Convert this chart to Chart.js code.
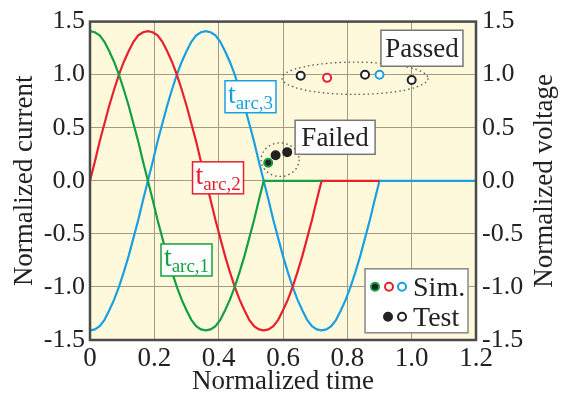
<!DOCTYPE html>
<html>
<head>
<meta charset="utf-8">
<script src="https://cdn.jsdelivr.net/npm/chart.js@4.4.1/dist/chart.umd.min.js"></script>
<style>
html, body { margin: 0; padding: 0; background: #fff; }
</style>
</head>
<body>
<canvas id="graphique" width="562" height="398"></canvas>
<script>
// Normalized time (x) and current (y)
var time = [0, 0.015, 0.03, 0.045, 0.06, 0.075, 0.09, 0.105, 0.12, 0.135, 0.15, 0.165, 0.18, 0.195, 0.21, 0.225,
            0.24, 0.255, 0.27, 0.285, 0.30, 0.315, 0.33, 0.345, 0.36, 0.375, 0.39, 0.405, 0.42, 0.435, 0.45, 0.465,
            0.48, 0.495, 0.51, 0.525, 0.54, 0.555, 0.57, 0.585, 0.60, 0.615, 0.63, 0.645, 0.66, 0.675, 0.69, 0.705,
            0.72, 0.735, 0.75, 0.765, 0.78, 0.795, 0.81, 0.825, 0.84, 0.855, 0.87, 0.885, 0.90, 1.2];

var courant1 = [1.41, 1.40, 1.37, 1.31, 1.22, 1.12, 1.00, 0.86, 0.71, 0.54, 0.37, 0.18, 0, -0.18, -0.37, -0.54,
                -0.71, -0.86, -1.00, -1.12, -1.22, -1.31, -1.37, -1.40, -1.41, -1.40, -1.37, -1.31, -1.22, -1.12, -1.00, -0.86,
                -0.71, -0.54, -0.37, -0.18, 0, 0, 0, 0, 0, 0, 0, 0, 0, 0, 0, 0,
                0, null, null, null, null, null, null, null, null, null, null, null, null, null];
var courant2 = [0, 0.18, 0.37, 0.54, 0.71, 0.86, 1.00, 1.12, 1.22, 1.31, 1.37, 1.40, 1.41, 1.40, 1.37, 1.31,
                1.22, 1.12, 1.00, 0.86, 0.71, 0.54, 0.37, 0.18, 0, -0.18, -0.37, -0.54, -0.71, -0.86, -1.00, -1.12,
                -1.22, -1.31, -1.37, -1.40, -1.41, -1.40, -1.37, -1.31, -1.22, -1.12, -1.00, -0.86, -0.71, -0.54, -0.37, -0.18,
                0, 0, 0, 0, 0, 0, 0, 0, 0, 0, 0, 0, 0, null];
var courant3 = [-1.41, -1.40, -1.37, -1.31, -1.22, -1.12, -1.00, -0.86, -0.71, -0.54, -0.37, -0.18, 0, 0.18, 0.37, 0.54,
                0.71, 0.86, 1.00, 1.12, 1.22, 1.31, 1.37, 1.40, 1.41, 1.40, 1.37, 1.31, 1.22, 1.12, 1.00, 0.86,
                0.71, 0.54, 0.37, 0.18, 0, -0.18, -0.37, -0.54, -0.71, -0.86, -1.00, -1.12, -1.22, -1.31, -1.37, -1.40,
                -1.41, -1.40, -1.37, -1.31, -1.22, -1.12, -1.00, -0.86, -0.71, -0.54, -0.37, -0.18, 0, 0];

// Recovery voltage points
var simTime = [0.554, 0.737, 0.900];
var simVolt = [0.17, 0.97, 1.00];
var testFailTime = [0.577, 0.613];
var testFailVolt = [0.24, 0.27];
var testPassTime = [0.655, 0.855, 1.0];
var testPassVolt = [0.99, 1.00, 0.95];

var vert = '#14a040', rouge = '#e8202c', bleu = '#1aa0e2';
var serif = "'Liberation Serif', 'DejaVu Serif', serif";

function points(xs, ys) {
    return xs.map(function(x, i) { return { x: x, y: ys[i] }; });
}

// annotations, in data coordinates
var arcLabels = [
    { n: '1', color: vert, x: 0.300, y: -0.746 },
    { n: '2', color: rouge, x: 0.398, y: 0.028 },
    { n: '3', color: bleu, x: 0.499, y: 0.792 }
];
var textLabels = [
    { text: 'Passed', x: 1.032, y: 1.249, w: 82, h: 36 },
    { text: 'Failed', x: 0.762, y: 0.410, w: 80, h: 34 }
];
var ellipses = [
    { x: 0.824, y: 0.966, rx: 0.227, ry: 0.152 },
    { x: 0.591, y: 0.199, rx: 0.059, ry: 0.158 }
];
var legende = { x: 0.855, y: -0.829, w: 103, h: 64 };

function boite(ctx, cx, cy, w, h, border) {
    ctx.fillStyle = '#fff';
    ctx.fillRect(cx - w / 2, cy - h / 2, w, h);
    ctx.strokeStyle = border;
    ctx.lineWidth = 1.5;
    ctx.strokeRect(cx - w / 2, cy - h / 2, w, h);
}

function rond(ctx, x, y, fill, stroke) {
    ctx.beginPath();
    ctx.arc(x, y, 4, 0, Math.PI * 2);
    ctx.fillStyle = fill;
    ctx.fill();
    ctx.lineWidth = 2;
    ctx.strokeStyle = stroke;
    ctx.stroke();
}

var decor = {
    id: 'decor',
    beforeDraw: function(chart) {
        var a = chart.chartArea, ctx = chart.ctx;
        ctx.save();
        ctx.fillStyle = '#fff9dc';
        ctx.fillRect(a.left, a.top, a.right - a.left, a.bottom - a.top);
        ctx.restore();
    },
    beforeDatasetsDraw: function(chart) {
        var ctx = chart.ctx, sx = chart.scales.x, sy = chart.scales.y;
        ctx.save();
        ctx.setLineDash([1.5, 3]);
        ctx.lineWidth = 1.3;
        ctx.strokeStyle = '#555';
        ellipses.forEach(function(e) {
            var cx = sx.getPixelForValue(e.x), cy = sy.getPixelForValue(e.y);
            var rx = sx.getPixelForValue(e.x + e.rx) - cx;
            var ry = cy - sy.getPixelForValue(e.y + e.ry);
            ctx.beginPath();
            ctx.ellipse(cx, cy, rx, ry, 0, 0, Math.PI * 2);
            ctx.stroke();
        });
        ctx.restore();
    },
    afterDatasetsDraw: function(chart) {
        var ctx = chart.ctx, sx = chart.scales.x, sy = chart.scales.y;
        ctx.save();
        ctx.textBaseline = 'alphabetic';
        // t_arc labels
        arcLabels.forEach(function(l) {
            var cx = sx.getPixelForValue(l.x), cy = sy.getPixelForValue(l.y);
            boite(ctx, cx, cy, 51, 32, l.color);
            ctx.font = '28px ' + serif;
            var wt = ctx.measureText('t').width;
            ctx.font = '19px ' + serif;
            var ws = ctx.measureText('arc,' + l.n).width;
            var x0 = cx - (wt + ws) / 2;
            ctx.fillStyle = l.color;
            ctx.font = '28px ' + serif;
            ctx.fillText('t', x0, cy + 6);
            ctx.font = '19px ' + serif;
            ctx.fillText('arc,' + l.n, x0 + wt, cy + 12);
        });
        // Passed / Failed
        textLabels.forEach(function(l) {
            var cx = sx.getPixelForValue(l.x), cy = sy.getPixelForValue(l.y);
            boite(ctx, cx, cy, l.w, l.h, '#777');
            ctx.font = '27px ' + serif;
            ctx.fillStyle = '#222';
            ctx.textAlign = 'center';
            ctx.fillText(l.text, cx, cy + 9);
            ctx.textAlign = 'left';
        });
        // legende
        var lx = sx.getPixelForValue(legende.x), ly = sy.getPixelForValue(legende.y);
        ctx.fillStyle = '#fff';
        ctx.fillRect(lx, ly, legende.w, legende.h);
        ctx.strokeStyle = '#888';
        ctx.lineWidth = 1.5;
        ctx.strokeRect(lx, ly, legende.w, legende.h);
        rond(ctx, lx + 10, ly + 18, '#222', vert);
        rond(ctx, lx + 24, ly + 18, '#fff', rouge);
        rond(ctx, lx + 37, ly + 18, '#fff', bleu);
        rond(ctx, lx + 23, ly + 48, '#222', '#222');
        rond(ctx, lx + 37, ly + 48, '#fff', '#222');
        ctx.font = '28px ' + serif;
        ctx.fillStyle = '#222';
        ctx.fillText('Sim.', lx + 48, ly + 27);
        ctx.fillText('Test', lx + 48, ly + 57);
        ctx.restore();
    },
    afterDraw: function(chart) {
        var a = chart.chartArea, ctx = chart.ctx;
        ctx.save();
        ctx.strokeStyle = '#4a4a4a';
        ctx.lineWidth = 2.5;
        ctx.strokeRect(a.left, a.top, a.right - a.left, a.bottom - a.top);
        // titre axe droit, lu de bas en haut
        ctx.translate(545, (a.top + a.bottom) / 2);
        ctx.rotate(-Math.PI / 2);
        ctx.font = '27px ' + serif;
        ctx.fillStyle = '#222';
        ctx.textAlign = 'center';
        ctx.textBaseline = 'middle';
        ctx.fillText('Normalized voltage', 0, 0);
        ctx.restore();
    }
};

function grille(ctx) {
    var v = ctx.tick ? ctx.tick.value : 0;
    var s = ctx.scale;
    if (Math.abs(v - s.min) < 1e-6 || Math.abs(v - s.max) < 1e-6) return 'rgba(0,0,0,0)';
    return '#a29c86';
}

var ctxG = document.getElementById('graphique').getContext('2d');
var graphique = new Chart(ctxG, {
    type: 'line',
    data: {
        datasets: [
            { data: points(simTime, simVolt), showLine: false, pointRadius: 4, pointBorderWidth: 2,
              pointBackgroundColor: ['#222', '#fff', '#fff'], pointBorderColor: [vert, rouge, bleu] },
            { data: points(testFailTime, testFailVolt), showLine: false, pointRadius: 4, pointBorderWidth: 2,
              pointBackgroundColor: '#222', pointBorderColor: '#222' },
            { data: points(testPassTime, testPassVolt), showLine: false, pointRadius: 4, pointBorderWidth: 2,
              pointBackgroundColor: '#fff', pointBorderColor: '#222' },
            { data: points(time, courant1), borderColor: vert, borderWidth: 2.2, pointRadius: 0, tension: 0, spanGaps: false },
            { data: points(time, courant2), borderColor: rouge, borderWidth: 2.2, pointRadius: 0, tension: 0, spanGaps: false },
            { data: points(time, courant3), borderColor: bleu, borderWidth: 2.2, pointRadius: 0, tension: 0, spanGaps: false }
        ]
    },
    options: {
        responsive: false,
        animation: false,
        layout: { padding: { top: 19, left: 0, right: 0, bottom: 0 } },
        plugins: { legend: { display: false }, tooltip: { enabled: false } },
        scales: {
            x: {
                type: 'linear', min: 0, max: 1.2,
                afterFit: function(s) { s.height = 58; },
                border: { display: false },
                grid: { color: grille, lineWidth: 1, drawTicks: false },
                ticks: {
                    stepSize: 0.2, maxRotation: 0, autoSkip: false, padding: 3,
                    color: '#222', font: { family: serif, size: 27 },
                    callback: function(v) { return v === 0 ? '0' : v.toFixed(1); }
                },
                title: { display: true, text: 'Normalized time', color: '#222',
                         font: { family: serif, size: 27, lineHeight: 1 }, padding: { top: 0, bottom: 3 } }
            },
            y: {
                position: 'left', min: -1.5, max: 1.5,
                afterFit: function(s) { s.width = 90; },
                border: { display: false },
                grid: { color: grille, lineWidth: 1, drawTicks: false },
                ticks: { stepSize: 0.5, padding: 5, color: '#222', font: { family: serif, size: 26 },
                         callback: function(v) { return v.toFixed(1); } },
                title: { display: true, text: 'Normalized current', color: '#222',
                         font: { family: serif, size: 27, lineHeight: 1 }, padding: { top: 11, bottom: 0 } }
            },
            y2: {
                position: 'right', min: -1.5, max: 1.5,
                afterFit: function(s) { s.width = 86; },
                border: { display: false },
                grid: { display: false, drawTicks: false },
                ticks: { stepSize: 0.5, padding: 6, color: '#222', font: { family: serif, size: 26 },
                         callback: function(v) { return v.toFixed(1); } }
            }
        }
    },
    plugins: [decor]
});
</script>
</body>
</html>
